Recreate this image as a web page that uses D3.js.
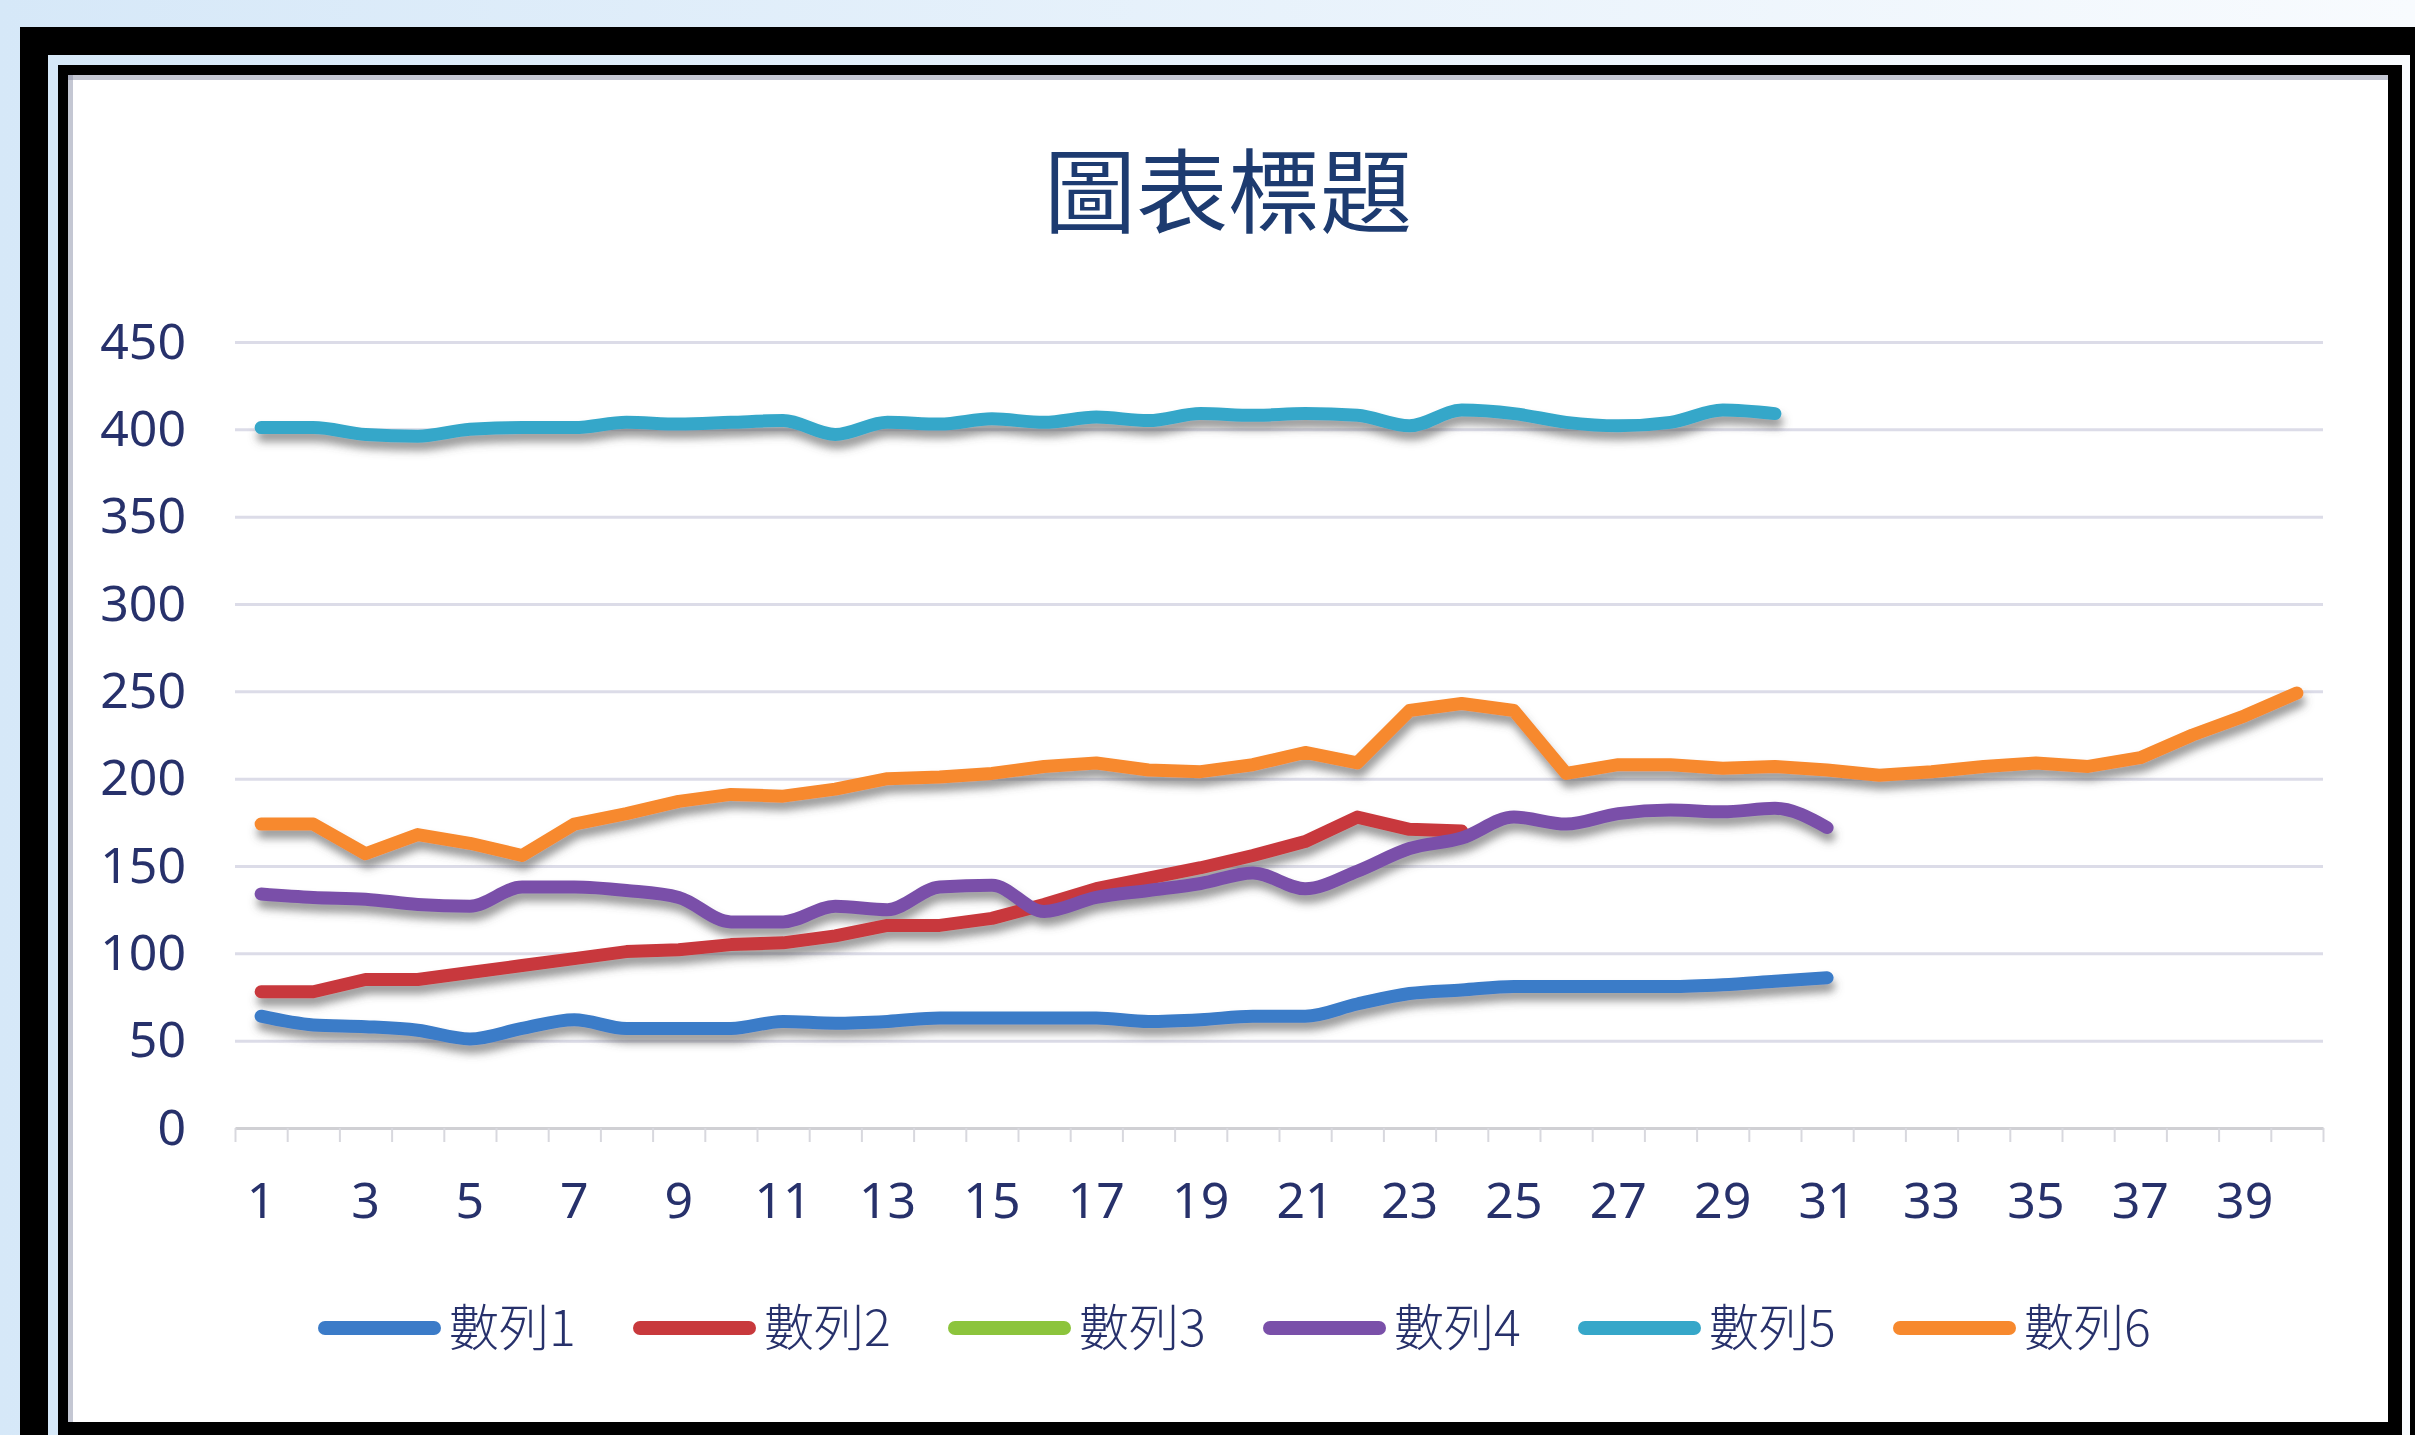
<!DOCTYPE html>
<html>
<head>
<meta charset="utf-8">
<script src="https://cdn.jsdelivr.net/npm/d3@7"></script>
<style>
  body { margin: 0; overflow: hidden; background: #fff; }
  svg { display: block; }
</style>
</head>
<body>
<script>
// DATA
const CATEGORIES = d3.range(1, 41);
const SERIES_NAMES = ['數列1', '數列2', '數列3', '數列4', '數列5', '數列6'];
const SERIES_1 = [64, 59, 58, 56, 51, 57, 62, 57, 57, 57, 61, 60, 61, 63, 63, 63, 63, 61, 62, 64, 64, 71, 77, 79, 81, 81, 81, 81, 82, 84, 86];
const SERIES_2 = [78, 78, 85, 85, 89, 93, 97, 101, 102, 105, 106, 110, 116, 116, 120, 128, 137, 143, 149, 156, 164, 178, 171, 170];
const SERIES_3 = [];
const SERIES_4 = [134, 132, 131, 128, 127, 138, 138, 136, 132, 118, 118, 127, 125, 138, 139, 124, 132, 136, 140, 146, 137, 147, 160, 166, 178, 174, 180, 182, 181, 183, 172];
const SERIES_5 = [401, 401, 397, 396, 400, 401, 401, 404, 403, 404, 405, 397, 404, 403, 406, 404, 407, 405, 409, 408, 409, 408, 402, 411, 409, 404, 402, 404, 411, 409];
const SERIES_6 = [174, 174, 157, 168, 163, 156, 174, 180, 187, 191, 190, 194, 200, 201, 203, 207, 209, 205, 204, 208, 215, 209, 239, 243, 239, 203, 208, 208, 206, 207, 205, 202, 204, 207, 209, 207, 212, 225, 236, 249];
const Y_TICKS = [0, 50, 100, 150, 200, 250, 300, 350, 400, 450];
const X_LABELS = d3.range(1, 41, 2);
const TITLE = '圖表標題';

// CONSTANTS
const WIDTH = 2415;
const HEIGHT = 1435;
const PLOT_LEFT = 235;
const PLOT_RIGHT = 2323;
const PLOT_TOP = 342;
const PLOT_BOTTOM = 1128;
const TEXT_COLOR = '#27316b';
const COLORS = ['#3b7bc8', '#c8393c', '#8cc43c', '#7a50a9', '#36a7c9', '#f7892e'];
const SMOOTH = [true, false, true, true, true, false];
const SERIES = [SERIES_1, SERIES_2, SERIES_3, SERIES_4, SERIES_5, SERIES_6];

const svg = d3.select('body')
  .append('svg')
  .attr('width', WIDTH)
  .attr('height', HEIGHT);

const defs = svg.append('defs');
const bg = defs.append('linearGradient').attr('id', 'bg')
  .attr('x1', 0).attr('x2', 1).attr('y1', 0).attr('y2', 0);
bg.append('stop').attr('offset', '0%').attr('stop-color', '#d6e8f8');
bg.append('stop').attr('offset', '100%').attr('stop-color', '#f8fbfe');

defs.append('filter').attr('id', 'shadow')
  .attr('x', '-5%').attr('y', '-20%').attr('width', '110%').attr('height', '150%')
  .append('feDropShadow')
  .attr('dx', 2).attr('dy', 8)
  .attr('stdDeviation', 4)
  .attr('flood-color', '#555')
  .attr('flood-opacity', 0.6);

// FRAME
svg.append('rect').attr('width', WIDTH).attr('height', HEIGHT).attr('fill', 'url(#bg)');
svg.append('rect').attr('x', 20).attr('y', 27).attr('width', WIDTH).attr('height', HEIGHT).attr('fill', '#000');
svg.append('rect').attr('x', 48).attr('y', 55).attr('width', 2362).attr('height', HEIGHT).attr('fill', 'url(#bg)');
svg.append('rect').attr('x', 58).attr('y', 65).attr('width', 2344).attr('height', HEIGHT).attr('fill', '#000');
svg.append('rect').attr('x', 68).attr('y', 75).attr('width', 2320).attr('height', 1347).attr('fill', '#fff');
// inner shade along top and left edges
svg.append('rect').attr('x', 68).attr('y', 75).attr('width', 2320).attr('height', 5).attr('fill', '#8a90a8').attr('opacity', 0.5);
svg.append('rect').attr('x', 68).attr('y', 75).attr('width', 5).attr('height', 1347).attr('fill', '#8a90a8').attr('opacity', 0.5);

// SCALES
const X_SCALE = d3.scaleBand()
  .domain(CATEGORIES)
  .range([PLOT_LEFT, PLOT_RIGHT])
  .padding(0);
const X_EDGE = d3.scaleLinear()
  .domain([0, CATEGORIES.length])
  .range([PLOT_LEFT, PLOT_RIGHT]);
const Y_SCALE = d3.scaleLinear()
  .domain([0, 450])
  .range([PLOT_BOTTOM, PLOT_TOP]);

// GRIDLINES
svg.append('g')
  .attr('transform', 'translate(' + PLOT_LEFT + ',0)')
  .call(d3.axisLeft(Y_SCALE).tickValues(Y_TICKS.slice(1)).tickSize(-(PLOT_RIGHT - PLOT_LEFT)).tickFormat(''))
  .call(g => g.select('.domain').remove())
  .selectAll('line')
  .attr('stroke', '#dcdce8')
  .attr('stroke-width', 3);

// Y-AXIS LABELS
svg.append('g')
  .attr('transform', 'translate(186,0)')
  .call(d3.axisLeft(Y_SCALE).tickValues(Y_TICKS).tickSize(0).tickPadding(0))
  .call(g => g.select('.domain').remove())
  .selectAll('text')
  .attr('fill', TEXT_COLOR)
  .style('font-family', '"Noto Sans", sans-serif')
  .style('font-size', '50px');

// X-AXIS LINE + TICKS
svg.append('g')
  .attr('transform', 'translate(0,' + PLOT_BOTTOM + ')')
  .call(d3.axisBottom(X_EDGE).ticks(40).tickSize(14).tickSizeOuter(0).tickFormat(''))
  .call(g => g.select('.domain').attr('stroke', '#d0d0d4').attr('stroke-width', 3))
  .selectAll('line')
  .attr('stroke', '#d8d8de')
  .attr('stroke-width', 2);

// X-AXIS LABELS
svg.append('g')
  .attr('transform', 'translate(0,' + PLOT_BOTTOM + ')')
  .call(d3.axisBottom(X_SCALE).tickValues(X_LABELS).tickSize(0).tickPadding(54))
  .call(g => g.select('.domain').remove())
  .selectAll('text')
  .attr('fill', TEXT_COLOR)
  .style('font-family', '"Noto Sans", sans-serif')
  .style('font-size', '50px');

// LINES
const plot = svg.append('g').attr('filter', 'url(#shadow)');
SERIES.forEach((values, s) => {
  if (values.length === 0) return;
  const line = d3.line()
    .x((d, i) => X_SCALE(CATEGORIES[i]) + X_SCALE.bandwidth() / 2)
    .y(d => Y_SCALE(d))
    .curve(SMOOTH[s] ? d3.curveMonotoneX : d3.curveLinear);
  plot.append('path')
    .datum(values)
    .attr('d', line)
    .attr('fill', 'none')
    .attr('stroke', COLORS[s])
    .attr('stroke-width', 13)
    .attr('stroke-linecap', 'round')
    .attr('stroke-linejoin', 'round');
});

// TITLE
svg.append('text')
  .attr('x', 1228)
  .attr('y', 185)
  .attr('text-anchor', 'middle')
  .attr('dominant-baseline', 'central')
  .attr('fill', '#1d3b70')
  .style('font-family', '"Noto Sans CJK TC", sans-serif')
  .style('font-size', '92px')
  .text(TITLE);

// LEGEND
const legend = svg.append('g')
  .attr('transform', 'translate(318,1328)')
  .selectAll('g')
  .data(SERIES_NAMES)
  .enter().append('g')
  .attr('transform', (d, i) => 'translate(' + (i * 315) + ',0)');

legend.append('line')
  .attr('x1', 7).attr('x2', 116)
  .attr('stroke', (d, i) => COLORS[i])
  .attr('stroke-width', 14)
  .attr('stroke-linecap', 'round');

legend.append('text')
  .attr('x', 131)
  .attr('y', -4)
  .attr('dominant-baseline', 'central')
  .attr('fill', TEXT_COLOR)
  .style('font-family', '"Noto Sans CJK TC", sans-serif')
  .style('font-weight', 300)
  .style('font-size', '50px')
  .text(d => d);
</script>
</body>
</html>
